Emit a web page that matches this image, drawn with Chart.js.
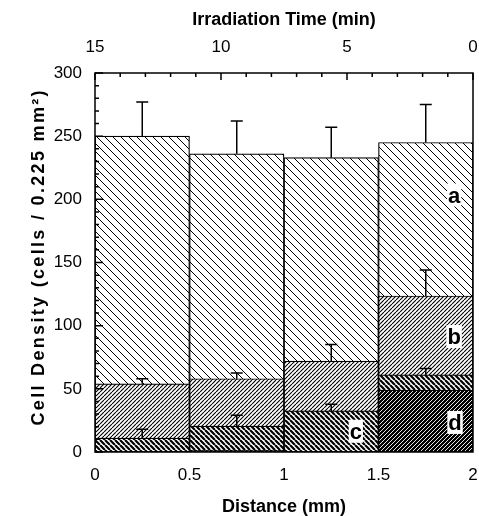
<!DOCTYPE html>
<html lang="en">
<head>
<meta charset="UTF-8" />
<title>Cell Density vs Distance</title>
<script src="https://cdn.jsdelivr.net/npm/chart.js"></script>
<style>
  body { margin: 0; background: #fff; }
  canvas { display: block; }
</style>
</head>
<body>
<canvas id="densityChart" width="479" height="516"></canvas>
<script>
// bin centres on the distance axis (mm), each bin is 0.5 mm wide
const distance = [0.25, 0.75, 1.25, 1.75];
const xTicks = [0, 0.5, 1, 1.5, 2];
const timeTicks = [15, 10, 5, 0];
const yTicks = [0, 50, 100, 150, 200, 250, 300];

const seriesA = [250, 236, 233, 245];
const seriesB = [54, 58, 72, 123.5];
const seriesC = [11, 20.5, 32.5, 61];
const seriesD = [0, 1.5, 0, 49];

// upper error bars only
const errA = [27, 26, 24, 30];
const errB = [4, 4.5, 13, 20.5];
const errC = [7, 8.5, 5.3, 5];

const yTitle = 'Cell Density (cells / 0.225 mm\u00B2)';

// where the a/b/c/d tags sit, in data units
const tags = [
  { text: 'a', x: 1.9, y: 203 },
  { text: 'b', x: 1.9, y: 91 },
  { text: 'c', x: 1.38, y: 16 },
  { text: 'd', x: 1.905, y: 23 }
];

const FONT = '"Liberation Sans", Arial, Helvetica, sans-serif';

function hatch(p, lw, dir, fg, bg) {
  const c = document.createElement('canvas');
  c.width = c.height = p;
  const g = c.getContext('2d');
  g.fillStyle = bg;
  g.fillRect(0, 0, p, p);
  g.strokeStyle = fg;
  g.lineWidth = lw;
  g.beginPath();
  for (let k = -1; k <= 1; k++) {
    const x = k * p;
    if (dir === '\\') { g.moveTo(x, 0); g.lineTo(x + p, p); }
    else { g.moveTo(x, p); g.lineTo(x + p, 0); }
  }
  g.stroke();
  return c;
}

const canvas = document.getElementById('densityChart');
const ctx = canvas.getContext('2d');
const fillA = ctx.createPattern(hatch(8, 1, '\\', '#000', '#fff'), 'repeat');
const fillB = ctx.createPattern(hatch(4, 1.1, '/', '#000', '#fff'), 'repeat');
const fillC = ctx.createPattern(hatch(5, 2.2, '\\', '#000', '#fff'), 'repeat');
const fillD = ctx.createPattern(hatch(4, 0.9, '/', '#fff', '#000'), 'repeat');

function barSet(label, values, errs, fill, order) {
  return {
    label: label,
    data: distance.map((x, i) => ({ x: x, y: values[i] })),
    errors: errs,
    backgroundColor: fill,
    borderColor: '#000',
    borderWidth: 1.2,
    borderSkipped: false,
    barPercentage: 1,
    categoryPercentage: 1,
    grouped: false,
    order: order
  };
}

const setTicks = list => s => { s.ticks = list.map(v => ({ value: v })); };
// keep the axis boxes exactly where the original has them
const fixBox = (w, h) => s => {
  if (w) s.width = w;
  if (h) s.height = h;
  s.paddingLeft = s.paddingRight = s.paddingTop = s.paddingBottom = 0;
};

const errorBars = {
  id: 'errorBars',
  afterDatasetsDraw(chart) {
    const c = chart.ctx, xs = chart.scales.x, ys = chart.scales.y;
    c.save();
    c.strokeStyle = '#000';
    c.lineWidth = 1.5;
    chart.data.datasets.forEach(ds => {
      if (!ds.errors) return;
      ds.data.forEach((pt, i) => {
        const x = xs.getPixelForValue(pt.x);
        const y0 = ys.getPixelForValue(pt.y);
        const y1 = ys.getPixelForValue(pt.y + ds.errors[i]);
        c.beginPath();
        c.moveTo(x, y0); c.lineTo(x, y1);
        c.moveTo(x - 6, y1); c.lineTo(x + 6, y1);
        c.stroke();
      });
    });
    c.restore();
  }
};

const frameAndTicks = {
  id: 'frameAndTicks',
  afterDraw(chart) {
    const c = chart.ctx, a = chart.chartArea;
    const ys = chart.scales.y, ts = chart.scales.xTop;
    c.save();
    c.strokeStyle = '#000';
    c.lineWidth = 1.5;
    c.strokeRect(a.left, a.top, a.right - a.left, a.bottom - a.top);
    c.beginPath();
    for (let v = 0; v <= 300; v += 10) {
      const y = ys.getPixelForValue(v);
      c.moveTo(a.left, y); c.lineTo(a.left + (v % 50 === 0 ? 8 : 4), y);
    }
    for (let m = 0; m <= 15; m++) {
      const x = ts.getPixelForValue(m);
      c.moveTo(x, a.top); c.lineTo(x, a.top + (m % 5 === 0 ? 7 : 4));
    }
    c.stroke();

    // letter tags
    c.font = 'bold 22px ' + FONT;
    c.textAlign = 'center';
    c.textBaseline = 'middle';
    tags.forEach(t => {
      const x = chart.scales.x.getPixelForValue(t.x);
      const y = ys.getPixelForValue(t.y);
      const w = c.measureText(t.text).width;
      c.fillStyle = '#fff';
      c.fillRect(x - w / 2 - 1, y - 12, w + 2, 23);
      c.fillStyle = '#000';
      c.fillText(t.text, x, y + 1);
    });

    // rotated y title, spread out like the original
    c.save();
    c.translate(39, 258);
    c.rotate(-Math.PI / 2);
    c.font = 'bold 18px ' + FONT;
    const w0 = c.measureText(yTitle).width;
    const sp = Math.max(0, (335 - w0) / (yTitle.length - 1));
    c.letterSpacing = sp.toFixed(2) + 'px';
    c.textAlign = 'center';
    c.textBaseline = 'middle';
    c.fillStyle = '#000';
    c.fillText(yTitle, sp / 2, 0);
    c.restore();
    c.restore();
  }
};

const tickFont = { family: FONT, size: 17 };
const titleFont = { family: FONT, size: 18, weight: 'bold', lineHeight: 1 };
const plainLabel = v => String(v);

new Chart(canvas, {
  type: 'bar',
  data: {
    datasets: [
      barSet('a', seriesA, errA, fillA, 4),
      barSet('b', seriesB, errB, fillB, 3),
      barSet('c', seriesC, errC, fillC, 2),
      barSet('d', seriesD, null, fillD, 1)
    ]
  },
  options: {
    responsive: false,
    animation: false,
    layout: { padding: { left: 0, right: 6, top: 0, bottom: 0 } },
    plugins: {
      legend: { display: false },
      tooltip: { enabled: false }
    },
    scales: {
      x: {
        type: 'linear',
        position: 'bottom',
        min: 0,
        max: 2,
        offset: false,
        afterBuildTicks: setTicks(xTicks),
        grid: { display: false, drawTicks: false, offset: false },
        border: { display: false },
        ticks: { font: tickFont, color: '#000', padding: 13, maxRotation: 0, autoSkip: false, callback: plainLabel },
        title: { display: true, text: 'Distance (mm)', font: titleFont, color: '#000', padding: { top: 0, bottom: 0 } },
        afterFit: fixBox(0, 64)
      },
      xTop: {
        type: 'linear',
        position: 'top',
        min: 0,
        max: 15,
        reverse: true,
        offset: false,
        afterBuildTicks: setTicks(timeTicks),
        grid: { display: false, drawTicks: false, offset: false },
        border: { display: false },
        ticks: { font: tickFont, color: '#000', padding: 15, maxRotation: 0, autoSkip: false, callback: plainLabel },
        title: { display: true, text: 'Irradiation Time (min)', font: titleFont, color: '#000', padding: { top: 11, bottom: 0 } },
        afterFit: fixBox(0, 73)
      },
      y: {
        min: 0,
        max: 300,
        afterBuildTicks: setTicks(yTicks),
        grid: { display: false, drawTicks: false },
        border: { display: false },
        ticks: { font: tickFont, color: '#000', padding: 13, callback: plainLabel },
        afterFit: fixBox(95, 0)
      }
    }
  },
  plugins: [errorBars, frameAndTicks]
});
</script>
</body>
</html>
